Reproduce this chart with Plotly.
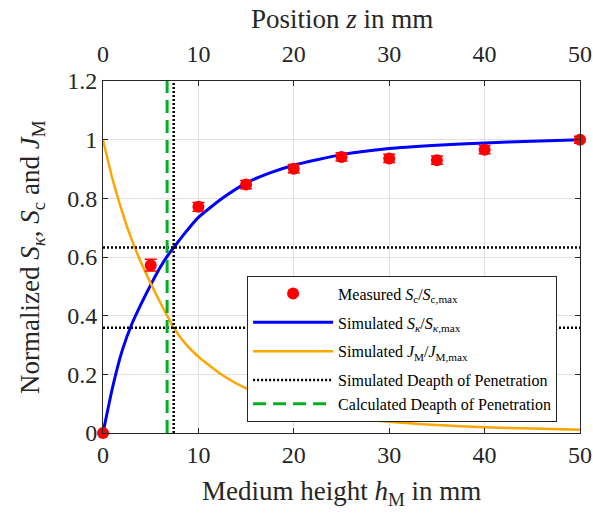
import plotly.graph_objects as go

# ---------------- data ----------------
h_meas = [0, 5, 10, 15, 20, 25, 30, 35, 40, 50]
s_c_meas = [0.0, 0.572, 0.771, 0.847, 0.901, 0.941, 0.936, 0.930, 0.966, 1.0]
s_c_err = [0.0, 0.02, 0.015, 0.014, 0.014, 0.014, 0.014, 0.014, 0.014, 0.012]

h_sim_k = [0, 1, 2, 3, 4, 5, 6, 7, 7.41, 8.5, 10, 12.5, 15, 17.5, 20, 25, 30, 35, 40, 45, 50]
s_k_sim = [0.0, 0.155, 0.28, 0.37, 0.44, 0.505, 0.565, 0.615, 0.632, 0.678, 0.735, 0.80, 0.852, 0.887,
           0.913, 0.949, 0.970, 0.981, 0.989, 0.995, 1.0]

h_sim_j = [0, 1, 2, 3, 4, 5, 6, 7.41, 8.5, 10, 12.5, 15, 17.5, 20, 22.5, 25, 30, 35, 40, 45, 50]
j_m_sim = [1.0, 0.865, 0.755, 0.66, 0.58, 0.51, 0.445, 0.359, 0.31, 0.26, 0.198, 0.152, 0.117, 0.09,
           0.07, 0.056, 0.038, 0.027, 0.02, 0.015, 0.011]

dp_sim_h = 7.41
dp_sim_levels = [0.632, 0.359]
dp_calc_h = 6.72

x_range = [0, 50]
y_range = [0, 1.2]
x_ticks = [0, 10, 20, 30, 40, 50]
y_ticks = [0, 0.2, 0.4, 0.6, 0.8, 1.0, 1.2]
y_ticktext = ["0", "0.2", "0.4", "0.6", "0.8", "1", "1.2"]

FONT = "Liberation Serif"
TXT = "#262626"

fig = go.Figure()

# simulated depth of penetration (dotted black)
dx, dy = [], []
for lvl in dp_sim_levels:
    dx += [x_range[0], x_range[1], None]
    dy += [lvl, lvl, None]
dx += [dp_sim_h, dp_sim_h]
dy += [y_range[0], y_range[1]]

fig.add_trace(go.Scatter(
    x=h_sim_k, y=s_k_sim, mode="lines", line=dict(color="#0000ff", width=3, shape="spline", smoothing=0.5),
    name="Simulated <i>S</i><sub><i>κ</i></sub>/<i>S</i><sub><i>κ</i>,max</sub>", legendrank=2,
    legendgroup="g2"))
fig.add_trace(go.Scatter(
    x=h_sim_j, y=j_m_sim, mode="lines", line=dict(color="#ffa500", width=2.5, shape="spline", smoothing=0.5),
    name="Simulated <i>J</i><sub>M</sub>/<i>J</i><sub>M,max</sub>", legendrank=3, legendgroup="g3"))
fig.add_trace(go.Scatter(
    x=dx, y=dy, mode="lines", line=dict(color="black", width=2.5, dash="2px,2px"),
    name="Simulated Deapth of Penetration", legendrank=4, legendgroup="g4"))
fig.add_trace(go.Scatter(
    x=[dp_calc_h, dp_calc_h], y=y_range, mode="lines", line=dict(color="#00b020", width=3, dash="13px,7px"),
    name="Calculated Deapth of Penetration", legendrank=5, legendgroup="g4"))
fig.add_trace(go.Scatter(
    x=h_meas, y=s_c_meas, mode="markers", cliponaxis=False,
    marker=dict(color="#ff0000", size=12),
    error_y=dict(type="data", array=s_c_err, color="#ff0000", thickness=1.5, width=6),
    name="Measured <i>S</i><sub>c</sub>/<i>S</i><sub>c,max</sub>", legendrank=1, legendgroup="g1"))
# invisible trace to carry the top axis
fig.add_trace(go.Scatter(x=x_range, y=y_range, xaxis="x2", mode="markers",
                         marker=dict(opacity=0), showlegend=False, hoverinfo="skip"))

axis_common = dict(showline=True, linecolor=TXT, linewidth=1, ticks="inside", ticklen=5,
                   tickcolor=TXT, tickfont=dict(family=FONT, size=24, color=TXT), zeroline=False,
                   automargin=False)

fig.update_layout(
    width=593, height=515,
    margin=dict(l=103, r=13, t=81, b=82),
    paper_bgcolor="white", plot_bgcolor="white",
    font=dict(family=FONT, color=TXT),
    xaxis=dict(range=x_range, tickvals=x_ticks, showgrid=True, gridcolor="#e0e0e0", gridwidth=1,
               mirror=False, **axis_common),
    xaxis2=dict(range=x_range, tickvals=x_ticks, overlaying="x", side="top", showgrid=False,
                anchor="y", ticklabelstandoff=8, **axis_common),
    yaxis=dict(range=y_range, tickvals=y_ticks, ticktext=y_ticktext, showgrid=True, gridcolor="#e0e0e0",
               gridwidth=1, mirror="ticks", **axis_common),
    legend=dict(x=0.952, y=0.447, xanchor="right", yanchor="top", bgcolor="white",
                bordercolor=TXT, borderwidth=1, font=dict(family=FONT, size=16, color="black"),
                tracegroupgap=5, itemwidth=80, traceorder="grouped"),
    showlegend=True,
    annotations=[
        dict(text="Medium height <i>h</i><sub>M</sub> in mm", xref="paper", yref="paper", x=0.5, y=-0.17,
             xanchor="center", yanchor="middle", showarrow=False, font=dict(family=FONT, size=27, color=TXT)),
        dict(text="Position <i>z</i> in mm", xref="paper", yref="paper", x=0.5, y=1.176,
             xanchor="center", yanchor="middle", showarrow=False, font=dict(family=FONT, size=27, color=TXT)),
        dict(text="Normalized <i>S</i><sub><i>κ</i></sub>, <i>S</i><sub>c</sub> and <i>J</i><sub>M</sub>",
             xref="paper", yref="paper", x=-0.149, y=0.5, textangle=-90,
             xanchor="center", yanchor="middle", showarrow=False, font=dict(family=FONT, size=27, color=TXT)),
    ],
)

fig.write_html("out.html", config={"displayModeBar": False},
               post_script="document.body.style.margin='0';document.body.style.overflow='hidden';")
